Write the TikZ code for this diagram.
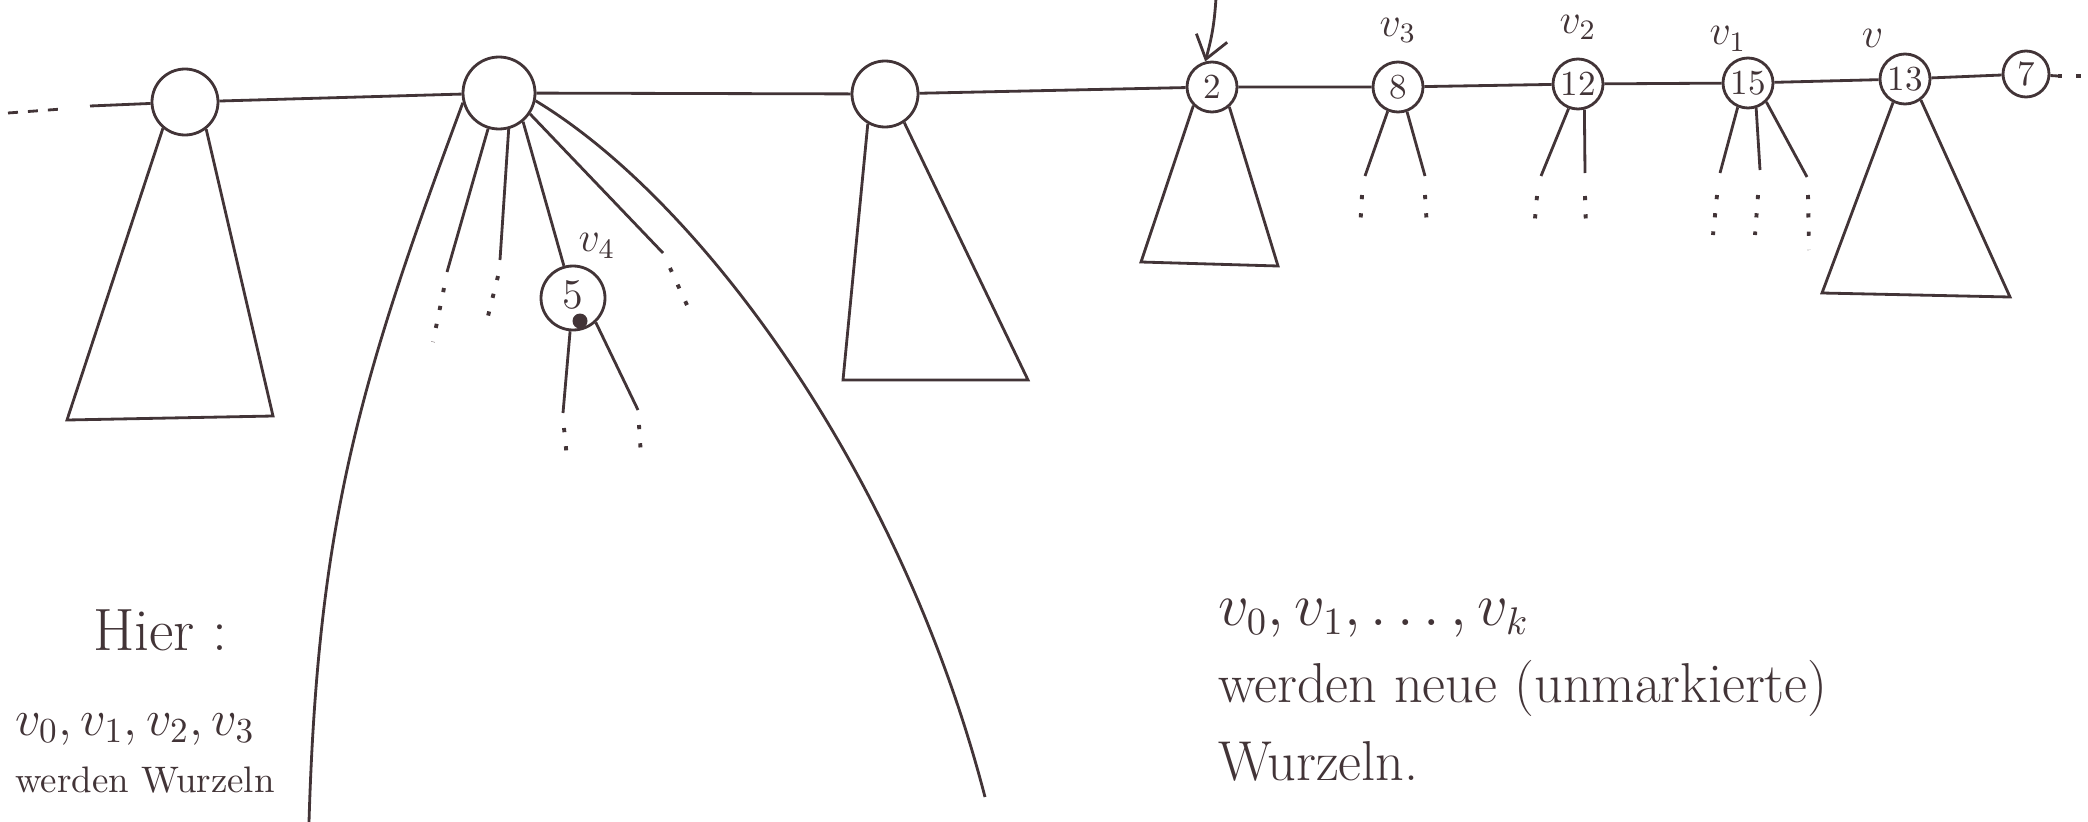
\documentclass[tikz,border=0pt]{standalone}
\usepackage{amsmath}
\usepackage{xcolor}
\usepackage{tikz}
\usetikzlibrary{arrows.meta,positioning,calc}
\definecolor{ink}{RGB}{66,52,55}

\begin{document}
\begin{tikzpicture}[x=0.1mm,y=-0.1mm,ink,thick,node distance=1mm,
    bigroot/.style={circle,draw,thick,minimum size=6.6mm,inner sep=0pt},
    keynode/.style={circle,draw,thick,minimum size=5mm,inner sep=0pt,font=\normalsize},
    vlabel/.style={font=\large},
    dotcont/.style={dash pattern=on 1.2pt off 4pt,line width=1.1pt},
    note/.style={anchor=base west,font=\fontsize{16}{22}\selectfont}]
  \useasboundingbox (0,0) rectangle (2088,822);
  % roots of the heap
  \node[bigroot] (r1) at (185,102) {};
  \node[bigroot,minimum size=7.2mm] (r2) at (499,93) {};
  \node[bigroot] (r3) at (885,94) {};
  \node[keynode] (n2)  at (1212,87) {2};
  \node[keynode] (n8)  at (1398,87) {8};
  \node[keynode] (n12) at (1578,84) {12};
  \node[keynode] (n15) at (1748,83) {15};
  \node[keynode] (n13) at (1905,79) {13};
  \node[keynode,minimum size=4.6mm] (n7) at (2026,74) {7};
  \node[keynode,minimum size=6.4mm,font=\large] (v4) at (573,298) {\raisebox{0.7mm}{5}};
  \fill (580,321) circle[radius=0.75mm];
  % names of the nodes on the path
  \node[vlabel,above=0.5mm of n8]  (l3) {$v_3$};
  \node[vlabel,above=0.5mm of n12] (l2) {$v_2$};
  \node[vlabel,above left=0mm and -3mm of n15] (l1) {$v_1$};
  \node[vlabel,above left=0mm and -1mm of n13] (lv) {$v$};
  \node[vlabel] (l4) at (597,246) {$v_4$};

  % root list
  \coordinate (ldash)  at (8,113);
  \coordinate (lgap)   at (62,109);
  \coordinate (lstart) at (90,106);
  \coordinate (rend)   at (2058,76);
  \coordinate (atop)   at (1216,-2);
  \coordinate (lbot)   at (309,822);
  \coordinate (rbot)   at (985,797);
  \draw[dash pattern=on 1mm off 1mm] (ldash) -- (lgap);
  \draw (lstart) -- (r1) -- (r2) -- (r3) -- (n2) -- (n8) -- (n12) -- (n15)
        -- (n13) -- (n7) -- (rend);
  \draw[dotcont] (rend) -- ++(24,0);
  \draw[-{Straight Barb[length=2.2mm,width=3.2mm]}] (atop) to[bend left=6] (n2.105);

  % subtrees as cones
  \draw (r1.230) -- (67,420) -- (273,416) -- (r1.-52);
  \draw (r3.-120) -- (843,380) -- (1028,380) -- (r3.-56);
  \draw (n2.-135) -- (1141,262) -- (1278,266) -- (n2.-49);
  \draw (n13.-117) -- (1822,293) -- (2010,297) -- (n13.-53);

  % children of the big root
  \draw (r2.195) .. controls (360,380) and (318,520) .. (lbot);
  \draw (r2.-12) .. controls (700,200) and (900,470) .. (rbot);
  \draw (r2.-107) -- (447,272);
  \draw[dotcont] (444,288) -- (433,342);
  \draw (r2.-75) -- (500,260);
  \draw[dotcont] (498,276) -- (485,328);
  \draw (r2.-50) -- (v4);
  \draw (r2.-34) -- (663,253);
  \draw[dotcont] (670,268) -- (692,316);
  \draw (v4.-95) -- (563,413);
  \draw[dotcont] (564,428) -- (567,458);
  \draw (v4.-47) -- (638,410);
  \draw[dotcont] (639,425) -- (641,456);

  % children of the marked nodes
  \draw (n8.-113) -- (1365,176);
  \draw[dotcont] (1362,195) -- (1360,230);
  \draw (n8.-70) -- (1425,176);
  \draw[dotcont] (1425,195) -- (1427,228);
  \draw (n12.-111) -- (1541,176);
  \draw[dotcont] (1537,196) -- (1534,230);
  \draw (n12.-76) -- (1585,173);
  \draw[dotcont] (1585,196) -- (1586,228);
  \draw (n15.-113) -- (1720,173);
  \draw[dotcont] (1717,195) -- (1713,235);
  \draw (n15.-72) -- (1760,170);
  \draw[dotcont] (1758,195) -- (1755,235);
  \draw (n15.-46) -- (1807,177);
  \draw[dotcont] (1808,195) -- (1809,250);

  % notes
  \node[anchor=base west,font=\fontsize{17}{20}\selectfont] (hier) at (80,650) {Hier :};
  \node[anchor=base west,font=\fontsize{14}{18}\selectfont] (vl) at (2,735) {$v_0, v_1, v_2, v_3$};
  \node[anchor=base west,font=\fontsize{10.5}{12}\selectfont] (wl) at (2,792) {werden Wurzeln};
  \node[note] (vr) at (1205,625) {$v_0, v_1, \dots, v_k$};
  \node[note] (wr) at (1205,702) {werden neue (unmarkierte)};
  \node[note] (wz) at (1205,780) {Wurzeln.};
\end{tikzpicture}
\end{document}
